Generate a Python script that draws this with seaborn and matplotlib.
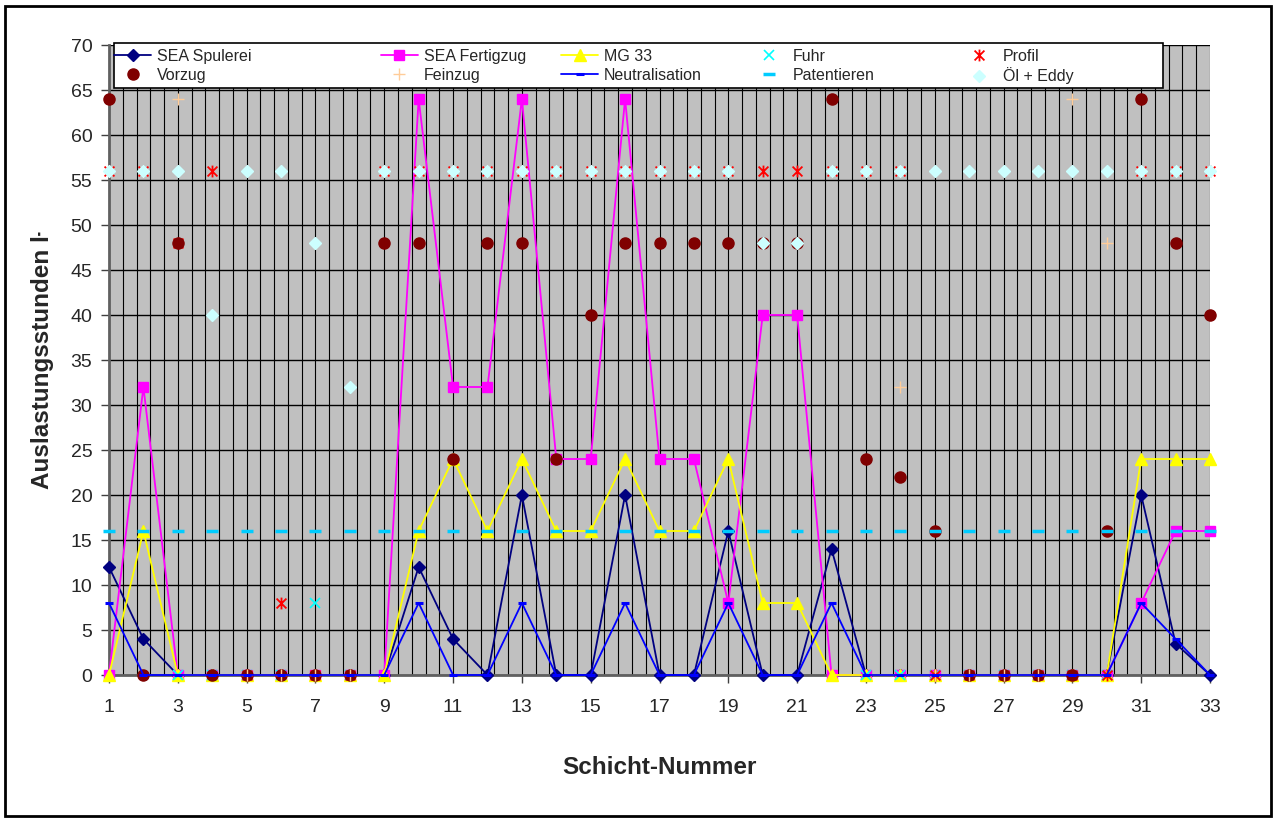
import matplotlib
matplotlib.use("Agg")
import matplotlib.pyplot as plt
import seaborn as sns
import numpy as np
import pandas as pd
from matplotlib.patches import Rectangle
from matplotlib.path import Path

sns.set_theme(style="white")
plt.rcParams['font.family'] = ['Liberation Sans', 'DejaVu Sans']

# ---------------- data ----------------
schicht = list(range(1, 34))
nan = float("nan")
sea_spulerei = [12, 4, 0, 0, 0, 0, 0, 0, 0, 12, 4, 0, 20, 0, 0, 20, 0, 0, 16, 0, 0, 14, 0, 0, 0, 0, 0, 0, 0, 0, 20, 3.5, 0]
sea_fertigzug = [0, 32, 0, 0, 0, 0, 0, 0, 0, 64, 32, 32, 64, 24, 24, 64, 24, 24, 8, 40, 40, 0, 0, 0, 0, 0, 0, 0, 0, 0, 8, 16, 16]
mg33 = [0, 16, 0, 0, 0, 0, 0, 0, 0, 16, 24, 16, 24, 16, 16, 24, 16, 16, 24, 8, 8, 0, 0, 0, 0, 0, 0, 0, 0, 0, 24, 24, 24]
fuhr = [nan, nan, 0, 0, 0, 0, 8, 0, nan, nan, nan, nan, nan, nan, nan, nan, nan, nan, nan, nan, nan, nan, 0, 0, 0, 0, 0, 0, 0, 0, nan, nan, nan]
profil = [56, 56, 48, 56, 0, 8, 0, 0, 56, 56, 56, 56, 56, 56, 56, 56, 56, 56, 56, 56, 56, 56, 56, 56, 0, 0, 0, 0, 0, 0, 56, 56, 56]
vorzug = [64, 0, 48, 0, 0, 0, 0, 0, 48, 48, 24, 48, 48, 24, 40, 48, 48, 48, 48, 48, 48, 64, 24, 22, 16, 0, 0, 0, 0, 16, 64, 48, 40]
feinzug = [nan, nan, 64, nan, 0, 0, 0, 0, nan, nan, nan, nan, nan, nan, nan, nan, nan, nan, nan, nan, nan, nan, nan, 32, 0, 0, 0, 0, 64, 48, nan, nan, nan]
neutralisation = [8, 0, 0, 0, 0, 0, 0, 0, 0, 8, 0, 0, 8, 0, 0, 8, 0, 0, 8, 0, 0, 8, 0, 0, 0, 0, 0, 0, 0, 0, 8, 4, 0]
patentieren = [16, 16, 16, 16, 16, 16, 16, 16, 16, 16, 16, 16, 16, 16, 16, 16, 16, 16, 16, 16, 16, 16, 16, 16, 16, 16, 16, 16, 16, 16, 16, 16, 16]
oel_eddy = [56, 56, 56, 40, 56, 56, 48, 32, 56, 56, 56, 56, 56, 56, 56, 56, 56, 56, 56, 48, 48, 56, 56, 56, 56, 56, 56, 56, 56, 56, 56, 56, 56]

x_ticks = [1, 3, 5, 7, 9, 11, 13, 15, 17, 19, 21, 23, 25, 27, 29, 31, 33]
y_ticks = [0, 5, 10, 15, 20, 25, 30, 35, 40, 45, 50, 55, 60, 65, 70]

# Excel-like star marker: X plus vertical bar
star = Path([(-1, -1), (1, 1), (-1, 1), (1, -1), (0, -1.2), (0, 1.2)],
            [Path.MOVETO, Path.LINETO, Path.MOVETO, Path.LINETO, Path.MOVETO, Path.LINETO])

# ---------------- figure ----------------
W, H = 1278, 822
fig = plt.figure(figsize=(W / 100, H / 100), dpi=100)
fig.patch.set_facecolor("white")
L, R, T, B = 109, 1210, 45, 675
ax = fig.add_axes([L / W, 1 - B / H, (R - L) / W, (B - T) / H])
ax.set_facecolor("#C0C0C0")

fig.patches.append(Rectangle((5 / W, 6 / H), 1266 / W, 810 / H, transform=fig.transFigure,
                             fill=False, edgecolor="black", linewidth=2))

series = [
    ("SEA Spulerei", sea_spulerei, "#000080", "D", 6.5, True, 1, True),
    ("SEA Fertigzug", sea_fertigzug, "#FF00FF", "s", 7.5, True, 1, True),
    ("MG 33", mg33, "#FFFF00", "^", 8.5, True, 1, True),
    ("Fuhr", fuhr, "#00FFFF", "x", 6.5, False, 1.2, False),
    ("Profil", profil, "#FF0000", star, 8.5, False, 1.3, False),
    ("Vorzug", vorzug, "#800000", "o", 8, False, 1, True),
    ("Feinzug", feinzug, "#FFCC99", "+", 8, False, 1.0, False),
    ("Neutralisation", neutralisation, "#0000FF", "_", 6, True, 2.2, False),
    ("Patentieren", patentieren, "#00CCFF", "_", 9, False, 2.5, False),
    ("Öl + Eddy", oel_eddy, "#CCFFFF", "D", 6.5, False, 1, True),
]

handles = {}
for i, (name, data, color, marker, ms, line, mew, filled) in enumerate(series):
    df = pd.DataFrame({"x": schicht, "y": data}).dropna()
    kw = dict(marker=marker, markersize=ms, markeredgewidth=mew, color=color,
              markerfacecolor=color, markeredgecolor=color, zorder=3 + i)
    if line:
        kw["linewidth"] = 1.3
    else:
        kw["linestyle"] = ""
    sns.lineplot(data=df, x="x", y="y", ax=ax, estimator=None, sort=False,
                 label=name, legend=False, clip_on=False, **kw)
    handles[name] = ax.lines[-1]

ax.set_xlim(1, 33)
ax.set_ylim(0, 70)

for gx in np.linspace(1, 33, 81):
    ax.axvline(gx, color="black", linewidth=0.8, zorder=1)
for gy in y_ticks:
    ax.axhline(gy, color="black", linewidth=1.0, zorder=1)

ax.set_xticks(x_ticks)
ax.set_yticks(y_ticks)
ax.tick_params(axis="both", which="major", direction="out", length=6, width=1,
               color="#404040", labelsize=14, pad=6, bottom=True, left=True)
ax.tick_params(axis="x", pad=11)
for s in ["left", "bottom"]:
    ax.spines[s].set_color("#606060")
    ax.spines[s].set_linewidth(2)
    ax.spines[s].set_zorder(2)
for s in ["top", "right"]:
    ax.spines[s].set_visible(False)

ax.set_xlabel("Schicht-Nummer", fontsize=17.5, fontweight="bold", labelpad=29)
ax.set_ylabel("Auslastungsstunden ŀ", fontsize=17.5, fontweight="bold", labelpad=12)

# legend: one frame, five columns placed like the reference
frame = Rectangle((114 / W, 1 - 88 / H), (1163 - 114) / W, 45 / H, transform=fig.transFigure,
                  facecolor="white", edgecolor="black", linewidth=1.2, zorder=30)
fig.patches.append(frame)
columns = [("SEA Spulerei", "Vorzug", 157), ("SEA Fertigzug", "Feinzug", 424),
           ("MG 33", "Neutralisation", 604), ("Fuhr", "Patentieren", 793),
           ("Profil", "Öl + Eddy", 1003)]
fs = 11.5
hl_px = 37
pad_px = 6
for a, b, tx in columns:
    x0 = tx - hl_px - pad_px
    lg = fig.legend([handles[a], handles[b]], [a, b], loc="upper left",
                    bbox_to_anchor=(x0 / W, 1 - 49 / H), bbox_transform=fig.transFigure,
                    fontsize=fs, frameon=False, borderpad=0, borderaxespad=0,
                    handlelength=hl_px / (fs * 100 / 72), handletextpad=pad_px / (fs * 100 / 72),
                    labelspacing=0.22)
    lg.set_zorder(31)

fig.savefig("out.png", dpi=100)
